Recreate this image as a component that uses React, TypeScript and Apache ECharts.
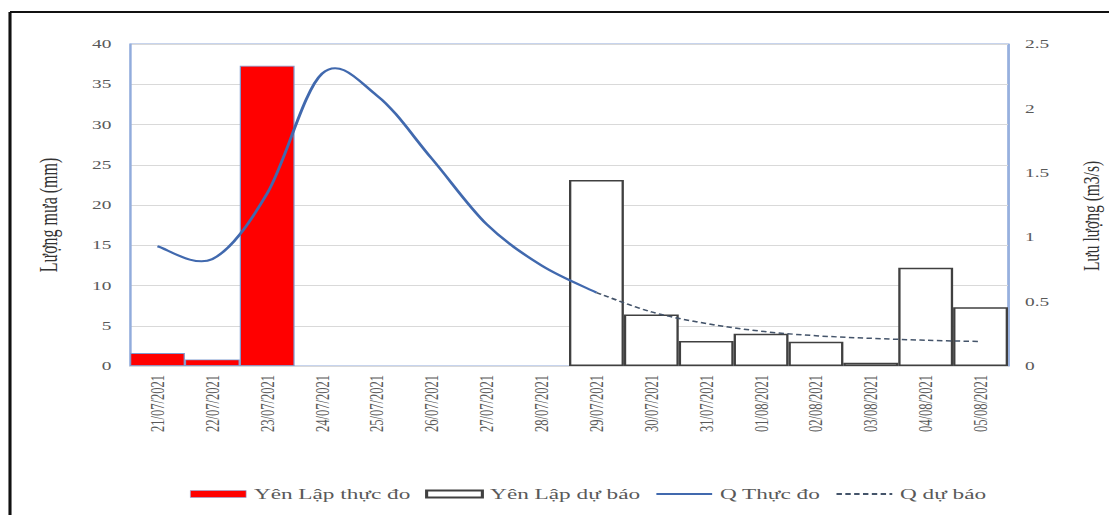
import React, { useEffect, useRef } from 'react';
import * as echarts from 'echarts';

const categories = [
  '21/07/2021', '22/07/2021', '23/07/2021', '24/07/2021', '25/07/2021', '26/07/2021',
  '27/07/2021', '28/07/2021', '29/07/2021', '30/07/2021', '31/07/2021', '01/08/2021',
  '02/08/2021', '03/08/2021', '04/08/2021', '05/08/2021',
];
const rainObserved = [1.6, 0.8, 37.3, null, null, null, null, null, null, null, null, null, null, null, null, null];
const rainForecast = [null, null, null, null, null, null, null, null, 23.1, 6.4, 3.1, 4.0, 3.0, 0.4, 12.2, 7.3];
const qObserved = [0.93, 0.83, 1.34, 2.27, 2.1, 1.61, 1.1, 0.78, 0.57, null, null, null, null, null, null, null];
const qForecast = [null, null, null, null, null, null, null, null, 0.57, 0.42, 0.33, 0.27, 0.235, 0.215, 0.2, 0.19];

const seriesNames = ['Yên Lập thực đo', 'Yên Lập dự báo', 'Q Thực đo', 'Q dự báo'];
const leftAxisName = 'Lượng mưa (mm)';
const rightAxisName = 'Lưu lượng (m3/s)';

const W = 716;
const S = 1109 / W;
const cx = (x: number) => x / S;
const FONT = "'Liberation Serif', 'Times New Roman', serif";

const Q_COLOR = '#4169AE';
const QF_COLOR = '#44546A';
const QF_DASH = [3.5, 2.2];

const validPoints = (arr: (number | null)[]) =>
  arr.map((v, i) => (v == null ? null : [i, v])).filter((p) => p != null) as number[][];

// Excel-like smoothed curve (Catmull-Rom) through points mapped by the chart's own axes
const makeCurveRenderer = (arr: (number | null)[], stroke: string, width: number, dash: number[] | null) =>
  (params: any, api: any) => {
    if (params.dataIndex !== 0) return null;
    const pts = validPoints(arr).map((p) => api.coord(p));
    if (pts.length < 2) return null;
    let d = `M${pts[0][0]},${pts[0][1]}`;
    for (let k = 0; k < pts.length - 1; k++) {
      const p0 = pts[k - 1] || pts[k];
      const p1 = pts[k];
      const p2 = pts[k + 1];
      const p3 = pts[k + 2] || pts[k + 1];
      const c1x = p1[0] + (p2[0] - p0[0]) / 6;
      const c1y = p1[1] + (p2[1] - p0[1]) / 6;
      const c2x = p2[0] - (p3[0] - p1[0]) / 6;
      const c2y = p2[1] - (p3[1] - p1[1]) / 6;
      d += ` C${c1x},${c1y} ${c2x},${c2y} ${p2[0]},${p2[1]}`;
    }
    return {
      type: 'path',
      shape: { pathData: d },
      style: { fill: 'none', stroke, lineWidth: width, lineDash: dash || undefined },
      silent: true,
    };
  };

export default function App() {
  const ref = useRef<HTMLDivElement>(null);
  useEffect(() => {
    document.body.style.margin = '0';
    const chart = echarts.init(ref.current!, null, { renderer: 'svg' });
    const option: any = {
      animation: false,
      backgroundColor: '#fff',
      grid: {
        left: cx(130),
        right: W - cx(1008),
        top: 44,
        bottom: 149,
        show: true,
        borderColor: '#8FAADC',
        borderWidth: 1,
        backgroundColor: 'transparent',
      },
      legend: {
        left: cx(190) - 5,
        top: 480,
        itemWidth: 36,
        itemHeight: 7,
        itemGap: 9.5,
        textStyle: { fontFamily: FONT, fontSize: 15, color: '#595959', lineHeight: 18 },
        data: [
          { name: seriesNames[0], icon: 'rect', itemStyle: { borderColor: '#8FAADC', borderWidth: 0.5 } },
          { name: seriesNames[1], icon: 'rect' },
          { name: seriesNames[2], itemStyle: { opacity: 0 }, lineStyle: { opacity: 1 } },
          { name: seriesNames[3], itemStyle: { opacity: 0 }, lineStyle: { opacity: 1 } },
        ],
      },
      xAxis: {
        type: 'category',
        data: categories,
        boundaryGap: true,
        axisLine: { lineStyle: { color: '#D9D9D9', width: 1 } },
        axisTick: { show: false },
        axisLabel: {
          rotate: 90,
          interval: 0,
          margin: 9,
          fontFamily: FONT,
          fontSize: 12.5,
          color: '#595959',
        },
      },
      yAxis: [
        {
          type: 'value',
          min: 0,
          max: 40,
          interval: 5,
          axisLine: { show: true, lineStyle: { color: '#8FAADC', width: 1 } },
          axisTick: { show: false },
          splitLine: { show: true, lineStyle: { color: '#D9D9D9', width: 1 } },
          axisLabel: { margin: 12, fontFamily: FONT, fontSize: 12.5, color: '#595959' },
        },
        {
          type: 'value',
          min: 0,
          max: 2.5,
          interval: 0.5,
          axisLine: { show: true, lineStyle: { color: '#8FAADC', width: 1 } },
          axisTick: { show: false },
          splitLine: { show: false },
          axisLabel: { margin: 11, fontFamily: FONT, fontSize: 12.5, color: '#595959' },
        },
      ],
      series: [
        {
          name: seriesNames[0],
          type: 'bar',
          data: rainObserved,
          barCategoryGap: 0,
          barGap: '-100%',
          itemStyle: { color: '#FF0000', borderColor: '#7F9BD0', borderWidth: 0.8 },
          z: 2,
        },
        {
          name: seriesNames[1],
          type: 'bar',
          data: rainForecast,
          barCategoryGap: 0,
          barGap: '-100%',
          itemStyle: { color: '#FFFFFF', borderColor: '#404040', borderWidth: 1.5 },
          z: 2,
        },
        {
          name: seriesNames[2],
          type: 'line',
          yAxisIndex: 1,
          data: qObserved,
          symbol: 'none',
          silent: true,
          lineStyle: { color: Q_COLOR, width: 2, opacity: 0 },
          itemStyle: { color: Q_COLOR },
          z: 1,
        },
        {
          name: seriesNames[3],
          type: 'line',
          yAxisIndex: 1,
          data: qForecast,
          symbol: 'none',
          silent: true,
          lineStyle: { color: QF_COLOR, width: 1.5, type: QF_DASH, opacity: 0 },
          itemStyle: { color: QF_COLOR },
          z: 1,
        },
        {
          id: 'qObservedCurve',
          type: 'custom',
          yAxisIndex: 1,
          data: validPoints(qObserved),
          encode: { x: 0, y: 1 },
          renderItem: makeCurveRenderer(qObserved, Q_COLOR, 2, null),
          z: 4,
        },
        {
          id: 'qForecastCurve',
          type: 'custom',
          yAxisIndex: 1,
          data: validPoints(qForecast),
          encode: { x: 0, y: 1 },
          renderItem: makeCurveRenderer(qForecast, QF_COLOR, 1.5, QF_DASH),
          z: 4,
        },
      ],
      graphic: [
        {
          type: 'line',
          shape: { x1: cx(10), y1: 12, x2: W, y2: 12 },
          style: { stroke: '#111', lineWidth: 2 },
        },
        {
          type: 'line',
          shape: { x1: cx(10), y1: 12, x2: cx(10), y2: 515 },
          style: { stroke: '#111', lineWidth: 2 },
        },
        {
          type: 'text',
          x: cx(49),
          y: 215,
          rotation: Math.PI / 2,
          style: {
            text: leftAxisName,
            fontFamily: FONT,
            fontSize: 16,
            fill: '#333',
            textAlign: 'center',
            align: 'center',
            textVerticalAlign: 'middle',
            verticalAlign: 'middle',
          },
        },
        {
          type: 'text',
          x: cx(1091),
          y: 216,
          rotation: Math.PI / 2,
          style: {
            text: rightAxisName,
            fontFamily: FONT,
            fontSize: 15.5,
            fill: '#333',
            textAlign: 'center',
            align: 'center',
            textVerticalAlign: 'middle',
            verticalAlign: 'middle',
          },
        },
      ],
    };
    chart.setOption(option);
    return () => chart.dispose();
  }, []);
  return (
    <div style={{ width: 1109, height: 515, overflow: 'hidden', background: '#fff' }}>
      <div
        ref={ref}
        style={{ width: W, height: 515, transform: `scaleX(${S})`, transformOrigin: '0 0' }}
      />
    </div>
  );
}
